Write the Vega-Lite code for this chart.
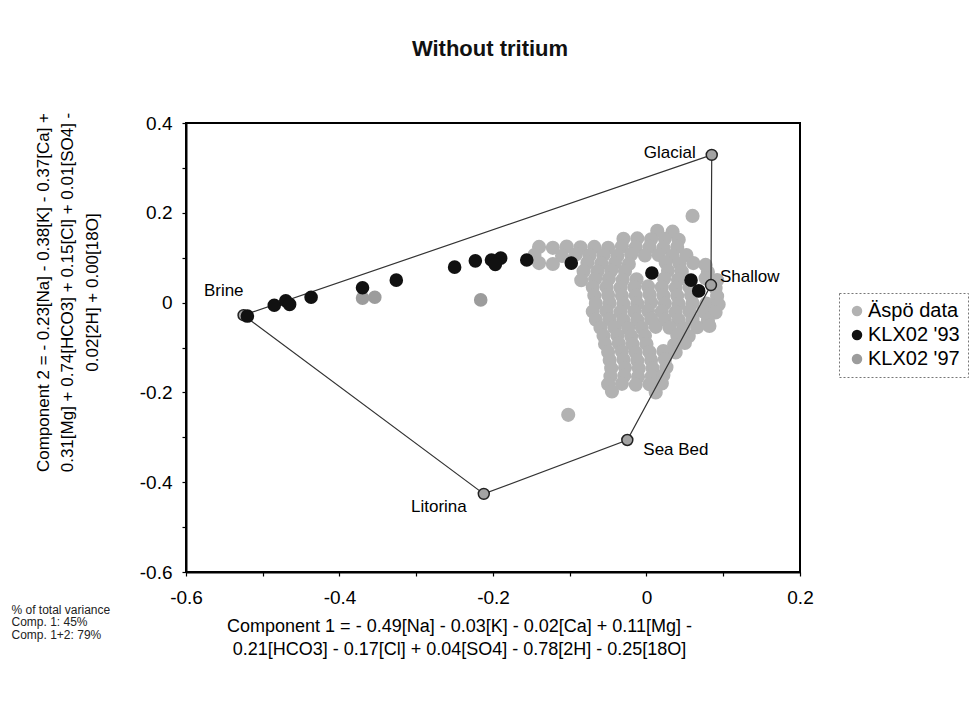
{
  "$schema": "https://vega.github.io/schema/vega-lite/v6.json",
  "width": 614,
  "height": 449,
  "autosize": {"type": "none"},
  "padding": {"left": 186, "top": 123, "right": 171, "bottom": 138},
  "background": "#ffffff",
  "title": {
    "text": "Without tritium",
    "frame": "group",
    "anchor": "middle",
    "offset": 51,
    "dx": -3,
    "font": "Liberation Sans",
    "fontSize": 22,
    "fontWeight": "bold",
    "color": "#111111"
  },
  "datasets": {
    "samples": [
      {"series": "Äspö data", "c1": 0.014, "c2": 0.160},
      {"series": "Äspö data", "c1": 0.034, "c2": 0.158},
      {"series": "Äspö data", "c1": -0.030, "c2": 0.142},
      {"series": "Äspö data", "c1": -0.012, "c2": 0.143},
      {"series": "Äspö data", "c1": 0.006, "c2": 0.141},
      {"series": "Äspö data", "c1": 0.024, "c2": 0.142},
      {"series": "Äspö data", "c1": 0.042, "c2": 0.140},
      {"series": "Äspö data", "c1": -0.140, "c2": 0.124},
      {"series": "Äspö data", "c1": -0.122, "c2": 0.122},
      {"series": "Äspö data", "c1": -0.104, "c2": 0.125},
      {"series": "Äspö data", "c1": -0.086, "c2": 0.123},
      {"series": "Äspö data", "c1": -0.068, "c2": 0.124},
      {"series": "Äspö data", "c1": -0.050, "c2": 0.122},
      {"series": "Äspö data", "c1": -0.032, "c2": 0.125},
      {"series": "Äspö data", "c1": -0.014, "c2": 0.123},
      {"series": "Äspö data", "c1": 0.004, "c2": 0.124},
      {"series": "Äspö data", "c1": 0.022, "c2": 0.122},
      {"series": "Äspö data", "c1": 0.040, "c2": 0.124},
      {"series": "Äspö data", "c1": -0.146, "c2": 0.106},
      {"series": "Äspö data", "c1": -0.110, "c2": 0.104},
      {"series": "Äspö data", "c1": -0.092, "c2": 0.107},
      {"series": "Äspö data", "c1": -0.074, "c2": 0.105},
      {"series": "Äspö data", "c1": -0.056, "c2": 0.106},
      {"series": "Äspö data", "c1": -0.038, "c2": 0.104},
      {"series": "Äspö data", "c1": -0.020, "c2": 0.107},
      {"series": "Äspö data", "c1": -0.002, "c2": 0.105},
      {"series": "Äspö data", "c1": 0.016, "c2": 0.106},
      {"series": "Äspö data", "c1": 0.034, "c2": 0.104},
      {"series": "Äspö data", "c1": 0.052, "c2": 0.106},
      {"series": "Äspö data", "c1": -0.140, "c2": 0.088},
      {"series": "Äspö data", "c1": -0.122, "c2": 0.086},
      {"series": "Äspö data", "c1": -0.077, "c2": 0.089},
      {"series": "Äspö data", "c1": -0.059, "c2": 0.087},
      {"series": "Äspö data", "c1": -0.041, "c2": 0.088},
      {"series": "Äspö data", "c1": -0.023, "c2": 0.086},
      {"series": "Äspö data", "c1": 0.025, "c2": 0.089},
      {"series": "Äspö data", "c1": 0.043, "c2": 0.087},
      {"series": "Äspö data", "c1": 0.061, "c2": 0.088},
      {"series": "Äspö data", "c1": 0.077, "c2": 0.084},
      {"series": "Äspö data", "c1": -0.082, "c2": 0.070},
      {"series": "Äspö data", "c1": -0.064, "c2": 0.069},
      {"series": "Äspö data", "c1": -0.046, "c2": 0.071},
      {"series": "Äspö data", "c1": -0.028, "c2": 0.070},
      {"series": "Äspö data", "c1": 0.028, "c2": 0.071},
      {"series": "Äspö data", "c1": 0.046, "c2": 0.069},
      {"series": "Äspö data", "c1": 0.080, "c2": 0.068},
      {"series": "Äspö data", "c1": -0.085, "c2": 0.050},
      {"series": "Äspö data", "c1": -0.067, "c2": 0.052},
      {"series": "Äspö data", "c1": -0.049, "c2": 0.053},
      {"series": "Äspö data", "c1": -0.031, "c2": 0.051},
      {"series": "Äspö data", "c1": -0.013, "c2": 0.052},
      {"series": "Äspö data", "c1": 0.023, "c2": 0.053},
      {"series": "Äspö data", "c1": 0.041, "c2": 0.051},
      {"series": "Äspö data", "c1": 0.077, "c2": 0.054},
      {"series": "Äspö data", "c1": 0.092, "c2": 0.050},
      {"series": "Äspö data", "c1": -0.070, "c2": 0.034},
      {"series": "Äspö data", "c1": -0.052, "c2": 0.035},
      {"series": "Äspö data", "c1": -0.034, "c2": 0.033},
      {"series": "Äspö data", "c1": -0.016, "c2": 0.034},
      {"series": "Äspö data", "c1": 0.002, "c2": 0.036},
      {"series": "Äspö data", "c1": 0.020, "c2": 0.034},
      {"series": "Äspö data", "c1": 0.038, "c2": 0.033},
      {"series": "Äspö data", "c1": 0.056, "c2": 0.035},
      {"series": "Äspö data", "c1": 0.090, "c2": 0.032},
      {"series": "Äspö data", "c1": -0.068, "c2": 0.016},
      {"series": "Äspö data", "c1": -0.050, "c2": 0.017},
      {"series": "Äspö data", "c1": -0.032, "c2": 0.015},
      {"series": "Äspö data", "c1": -0.014, "c2": 0.016},
      {"series": "Äspö data", "c1": 0.004, "c2": 0.018},
      {"series": "Äspö data", "c1": 0.022, "c2": 0.016},
      {"series": "Äspö data", "c1": 0.040, "c2": 0.015},
      {"series": "Äspö data", "c1": 0.058, "c2": 0.017},
      {"series": "Äspö data", "c1": 0.092, "c2": 0.014},
      {"series": "Äspö data", "c1": -0.066, "c2": -0.002},
      {"series": "Äspö data", "c1": -0.048, "c2": -0.001},
      {"series": "Äspö data", "c1": -0.030, "c2": -0.003},
      {"series": "Äspö data", "c1": -0.012, "c2": -0.002},
      {"series": "Äspö data", "c1": 0.006, "c2": 0.000},
      {"series": "Äspö data", "c1": 0.024, "c2": -0.002},
      {"series": "Äspö data", "c1": 0.042, "c2": -0.003},
      {"series": "Äspö data", "c1": 0.060, "c2": -0.001},
      {"series": "Äspö data", "c1": 0.078, "c2": -0.002},
      {"series": "Äspö data", "c1": 0.094, "c2": -0.004},
      {"series": "Äspö data", "c1": -0.070, "c2": -0.020},
      {"series": "Äspö data", "c1": -0.052, "c2": -0.019},
      {"series": "Äspö data", "c1": -0.034, "c2": -0.021},
      {"series": "Äspö data", "c1": -0.016, "c2": -0.020},
      {"series": "Äspö data", "c1": 0.002, "c2": -0.018},
      {"series": "Äspö data", "c1": 0.020, "c2": -0.020},
      {"series": "Äspö data", "c1": 0.038, "c2": -0.021},
      {"series": "Äspö data", "c1": 0.056, "c2": -0.019},
      {"series": "Äspö data", "c1": 0.074, "c2": -0.020},
      {"series": "Äspö data", "c1": 0.090, "c2": -0.022},
      {"series": "Äspö data", "c1": -0.066, "c2": -0.038},
      {"series": "Äspö data", "c1": -0.048, "c2": -0.037},
      {"series": "Äspö data", "c1": -0.030, "c2": -0.039},
      {"series": "Äspö data", "c1": -0.012, "c2": -0.038},
      {"series": "Äspö data", "c1": 0.006, "c2": -0.036},
      {"series": "Äspö data", "c1": 0.024, "c2": -0.038},
      {"series": "Äspö data", "c1": 0.042, "c2": -0.039},
      {"series": "Äspö data", "c1": 0.060, "c2": -0.037},
      {"series": "Äspö data", "c1": 0.080, "c2": -0.040},
      {"series": "Äspö data", "c1": -0.060, "c2": -0.056},
      {"series": "Äspö data", "c1": -0.042, "c2": -0.055},
      {"series": "Äspö data", "c1": -0.024, "c2": -0.057},
      {"series": "Äspö data", "c1": -0.006, "c2": -0.056},
      {"series": "Äspö data", "c1": 0.012, "c2": -0.054},
      {"series": "Äspö data", "c1": 0.030, "c2": -0.056},
      {"series": "Äspö data", "c1": 0.048, "c2": -0.057},
      {"series": "Äspö data", "c1": 0.066, "c2": -0.055},
      {"series": "Äspö data", "c1": 0.082, "c2": -0.052},
      {"series": "Äspö data", "c1": -0.056, "c2": -0.074},
      {"series": "Äspö data", "c1": -0.038, "c2": -0.073},
      {"series": "Äspö data", "c1": -0.020, "c2": -0.075},
      {"series": "Äspö data", "c1": -0.002, "c2": -0.074},
      {"series": "Äspö data", "c1": 0.040, "c2": -0.072},
      {"series": "Äspö data", "c1": 0.055, "c2": -0.075},
      {"series": "Äspö data", "c1": -0.054, "c2": -0.092},
      {"series": "Äspö data", "c1": -0.036, "c2": -0.091},
      {"series": "Äspö data", "c1": -0.018, "c2": -0.093},
      {"series": "Äspö data", "c1": 0.000, "c2": -0.092},
      {"series": "Äspö data", "c1": 0.036, "c2": -0.094},
      {"series": "Äspö data", "c1": 0.050, "c2": -0.090},
      {"series": "Äspö data", "c1": -0.050, "c2": -0.110},
      {"series": "Äspö data", "c1": -0.032, "c2": -0.109},
      {"series": "Äspö data", "c1": -0.014, "c2": -0.111},
      {"series": "Äspö data", "c1": 0.004, "c2": -0.110},
      {"series": "Äspö data", "c1": 0.022, "c2": -0.108},
      {"series": "Äspö data", "c1": 0.038, "c2": -0.111},
      {"series": "Äspö data", "c1": -0.048, "c2": -0.128},
      {"series": "Äspö data", "c1": -0.030, "c2": -0.127},
      {"series": "Äspö data", "c1": -0.012, "c2": -0.129},
      {"series": "Äspö data", "c1": 0.006, "c2": -0.128},
      {"series": "Äspö data", "c1": 0.024, "c2": -0.126},
      {"series": "Äspö data", "c1": -0.046, "c2": -0.146},
      {"series": "Äspö data", "c1": -0.028, "c2": -0.145},
      {"series": "Äspö data", "c1": -0.010, "c2": -0.147},
      {"series": "Äspö data", "c1": 0.008, "c2": -0.146},
      {"series": "Äspö data", "c1": 0.026, "c2": -0.144},
      {"series": "Äspö data", "c1": -0.047, "c2": -0.164},
      {"series": "Äspö data", "c1": -0.029, "c2": -0.163},
      {"series": "Äspö data", "c1": -0.011, "c2": -0.165},
      {"series": "Äspö data", "c1": 0.007, "c2": -0.164},
      {"series": "Äspö data", "c1": 0.022, "c2": -0.162},
      {"series": "Äspö data", "c1": -0.050, "c2": -0.182},
      {"series": "Äspö data", "c1": -0.032, "c2": -0.181},
      {"series": "Äspö data", "c1": -0.014, "c2": -0.183},
      {"series": "Äspö data", "c1": 0.004, "c2": -0.182},
      {"series": "Äspö data", "c1": 0.020, "c2": -0.180},
      {"series": "Äspö data", "c1": -0.045, "c2": -0.198},
      {"series": "Äspö data", "c1": 0.012, "c2": -0.200},
      {"series": "Äspö data", "c1": 0.060, "c2": 0.193},
      {"series": "Äspö data", "c1": -0.102, "c2": -0.250},
      {"series": "KLX02 '97", "c1": -0.370, "c2": 0.010},
      {"series": "KLX02 '97", "c1": -0.354, "c2": 0.012},
      {"series": "KLX02 '97", "c1": -0.216, "c2": 0.006},
      {"series": "KLX02 '93", "c1": -0.520, "c2": -0.030},
      {"series": "KLX02 '93", "c1": -0.485, "c2": -0.006},
      {"series": "KLX02 '93", "c1": -0.470, "c2": 0.004},
      {"series": "KLX02 '93", "c1": -0.465, "c2": -0.004},
      {"series": "KLX02 '93", "c1": -0.437, "c2": 0.012},
      {"series": "KLX02 '93", "c1": -0.370, "c2": 0.033},
      {"series": "KLX02 '93", "c1": -0.326, "c2": 0.050},
      {"series": "KLX02 '93", "c1": -0.250, "c2": 0.079},
      {"series": "KLX02 '93", "c1": -0.223, "c2": 0.093},
      {"series": "KLX02 '93", "c1": -0.202, "c2": 0.095},
      {"series": "KLX02 '93", "c1": -0.190, "c2": 0.099},
      {"series": "KLX02 '93", "c1": -0.197, "c2": 0.085},
      {"series": "KLX02 '93", "c1": -0.156, "c2": 0.095},
      {"series": "KLX02 '93", "c1": -0.098, "c2": 0.088},
      {"series": "KLX02 '93", "c1": 0.007, "c2": 0.066},
      {"series": "KLX02 '93", "c1": 0.058, "c2": 0.050},
      {"series": "KLX02 '93", "c1": 0.068, "c2": 0.026}
    ],
    "members": [
      {"member": "Brine", "c1": -0.525, "c2": -0.028},
      {"member": "Glacial", "c1": 0.085, "c2": 0.329},
      {"member": "Shallow", "c1": 0.084, "c2": 0.039},
      {"member": "Sea Bed", "c1": -0.025, "c2": -0.306},
      {"member": "Litorina", "c1": -0.212, "c2": -0.426}
    ],
    "outline": [
      {"step": 1, "member": "Brine", "c1": -0.525, "c2": -0.028},
      {"step": 2, "member": "Glacial", "c1": 0.085, "c2": 0.329},
      {"step": 3, "member": "Shallow", "c1": 0.084, "c2": 0.039},
      {"step": 4, "member": "Sea Bed", "c1": -0.025, "c2": -0.306},
      {"step": 5, "member": "Litorina", "c1": -0.212, "c2": -0.426},
      {"step": 6, "member": "Brine", "c1": -0.525, "c2": -0.028}
    ]
  },
  "resolve": {"axis": {"x": "independent"}},
  "encoding": {
    "y": {
      "field": "c2",
      "type": "quantitative",
      "scale": {"domain": [-0.6, 0.4], "nice": false, "zero": false},
      "axis": {
        "title": [
          "Component 2 = - 0.23[Na] - 0.38[K] - 0.37[Ca] +",
          "0.31[Mg] + 0.74[HCO3] + 0.15[Cl] + 0.01[SO4] -",
          "0.02[2H] + 0.00[18O]"
        ],
        "values": [-0.6, -0.5, -0.4, -0.3, -0.2, -0.1, 0, 0.1, 0.2, 0.3, 0.4],
        "labelExpr": "abs(round(datum.value * 10)) % 2 == 0 ? toString(datum.value) : ''",
        "labelPadding": 10,
        "titleAngle": 270,
        "titleX": -143,
        "titleY": 169,
        "titleAlign": "center",
        "titleBaseline": "middle",
        "titleLineHeight": 24.5
      }
    }
  },
  "layer": [
    {
      "data": {"name": "samples"},
      "transform": [{"filter": "datum.series == 'Äspö data'"}],
      "mark": {"type": "circle", "size": 200, "opacity": 1},
      "encoding": {
        "x": {
          "field": "c1",
          "type": "quantitative",
          "scale": {"domain": [-0.6, 0.2], "nice": false, "zero": false},
          "axis": {
            "orient": "bottom",
            "title": [
              "Component 1 = - 0.49[Na] - 0.03[K] - 0.02[Ca] + 0.11[Mg] -",
              "0.21[HCO3] - 0.17[Cl] + 0.04[SO4] - 0.78[2H] - 0.25[18O]"
            ],
            "values": [-0.6, -0.5, -0.4, -0.3, -0.2, -0.1, 0, 0.1, 0.2],
            "labelExpr": "abs(round(datum.value * 10)) % 2 == 0 ? toString(datum.value) : ''",
            "labelPadding": 12,
            "titleFontSize": 18,
            "titleX": 273,
            "titleY": 45,
            "titleAlign": "center",
            "titleBaseline": "top",
            "titleLineHeight": 23
          }
        },
        "color": {
          "field": "series",
          "type": "nominal",
          "scale": {
            "domain": ["Äspö data", "KLX02 '93", "KLX02 '97"],
            "range": ["#b2b2b2", "#111111", "#9c9c9c"]
          },
          "legend": {
            "title": null,
            "orient": "none",
            "legendX": 653,
            "legendY": 170,
            "padding": 8,
            "rowPadding": 4,
            "symbolType": "circle",
            "symbolSize": 110,
            "symbolStrokeWidth": 0,
            "labelOffset": 1,
            "labelFont": "Liberation Sans",
            "labelFontSize": 20,
            "labelColor": "#000000",
            "strokeColor": "#777777"
          }
        }
      }
    },
    {
      "data": {"name": "outline"},
      "mark": {"type": "line", "color": "#333333", "strokeWidth": 1.2},
      "encoding": {
        "x": {
          "field": "c1",
          "type": "quantitative",
          "axis": {
            "orient": "bottom",
            "domain": false,
            "ticks": false,
            "labels": false,
            "title": ["% of total variance", "Comp. 1: 45%", "Comp. 1+2: 79%"],
            "titleFontSize": 12,
            "titleColor": "#222222",
            "titleX": -175,
            "titleY": 32,
            "titleAngle": 0,
            "titleAlign": "left",
            "titleBaseline": "top",
            "titleLineHeight": 12.5
          }
        },
        "order": {"field": "step", "type": "quantitative"}
      }
    },
    {
      "data": {"name": "members"},
      "mark": {"type": "circle", "size": 120, "fill": "#a3a3a3", "stroke": "#222222", "strokeWidth": 1.5, "opacity": 1},
      "encoding": {"x": {"field": "c1", "type": "quantitative", "axis": null}}
    },
    {
      "data": {"name": "samples"},
      "transform": [{"filter": "datum.series != 'Äspö data'"}],
      "mark": {"type": "circle", "size": 185, "opacity": 1},
      "encoding": {
        "x": {"field": "c1", "type": "quantitative", "axis": null},
        "color": {
          "field": "series",
          "type": "nominal",
          "scale": {
            "domain": ["Äspö data", "KLX02 '93", "KLX02 '97"],
            "range": ["#b2b2b2", "#111111", "#9c9c9c"]
          }
        }
      }
    },
    {
      "data": {"name": "members"},
      "transform": [{"filter": "datum.member == 'Glacial'"}],
      "mark": {"type": "text", "align": "right", "baseline": "middle", "dx": -16, "dy": -2, "font": "Liberation Sans", "fontSize": 17, "color": "#000000"},
      "encoding": {"x": {"field": "c1", "type": "quantitative", "axis": null}, "text": {"field": "member"}}
    },
    {
      "data": {"name": "members"},
      "transform": [{"filter": "datum.member == 'Shallow'"}],
      "mark": {"type": "text", "align": "left", "baseline": "middle", "dx": 9, "dy": -8, "font": "Liberation Sans", "fontSize": 17, "color": "#000000"},
      "encoding": {"x": {"field": "c1", "type": "quantitative", "axis": null}, "text": {"field": "member"}}
    },
    {
      "data": {"name": "members"},
      "transform": [{"filter": "datum.member == 'Sea Bed'"}],
      "mark": {"type": "text", "align": "left", "baseline": "middle", "dx": 16, "dy": 10, "font": "Liberation Sans", "fontSize": 17, "color": "#000000"},
      "encoding": {"x": {"field": "c1", "type": "quantitative", "axis": null}, "text": {"field": "member"}}
    },
    {
      "data": {"name": "members"},
      "transform": [{"filter": "datum.member == 'Litorina'"}],
      "mark": {"type": "text", "align": "right", "baseline": "middle", "dx": -17, "dy": 13, "font": "Liberation Sans", "fontSize": 17, "color": "#000000"},
      "encoding": {"x": {"field": "c1", "type": "quantitative", "axis": null}, "text": {"field": "member"}}
    },
    {
      "data": {"name": "members"},
      "transform": [{"filter": "datum.member == 'Brine'"}],
      "mark": {"type": "text", "align": "right", "baseline": "middle", "dx": 0, "dy": -24, "font": "Liberation Sans", "fontSize": 17, "color": "#000000"},
      "encoding": {"x": {"field": "c1", "type": "quantitative", "axis": null}, "text": {"field": "member"}}
    }
  ],
  "config": {
    "font": "Liberation Sans",
    "view": {"stroke": "#000000", "strokeWidth": 2},
    "axis": {
      "grid": false,
      "domainColor": "#000000",
      "domainWidth": 2,
      "tickColor": "#000000",
      "tickWidth": 1.2,
      "tickSize": 4,
      "labelFont": "Liberation Sans",
      "labelFontSize": 19,
      "labelColor": "#000000",
      "labelOverlap": false,
      "labelFlush": false,
      "labelBound": false,
      "titleFont": "Liberation Sans",
      "titleFontSize": 17,
      "titleFontWeight": "normal",
      "titleColor": "#000000"
    },
    "legend": {"strokeDash": [2, 2], "strokeWidth": 1}
  }
}
